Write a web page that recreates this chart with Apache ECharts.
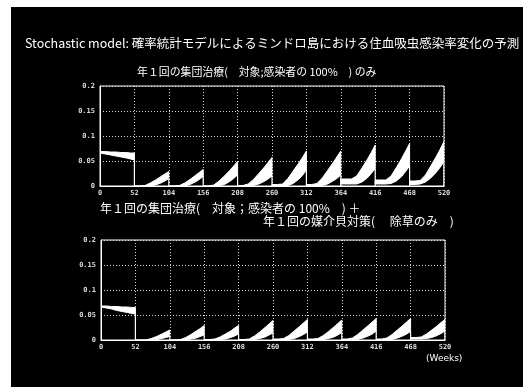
<!DOCTYPE html>
<html>
<head>
<meta charset="utf-8">
<script src="https://cdn.jsdelivr.net/npm/echarts@6/dist/echarts.min.js"></script>
<style>
  html, body { margin: 0; padding: 0; background: #fff; }
  #frame { position: absolute; left: 11px; top: 7px; width: 512px; height: 380px; background: #000; }
  #chart { position: absolute; left: 0; top: 0; width: 523px; height: 387px; }
</style>
</head>
<body>
<div id="frame"></div>
<div id="chart"></div>
<script>
// Time axis (weeks) and the yearly mass-treatment dates
const weekTicks = [0, 52, 104, 156, 208, 260, 312, 364, 416, 468, 520];
const yearStarts = [0, 52, 104, 156, 208, 260, 312, 364, 416, 468];
// Sample points inside each year (weeks after the treatment)
const yearOffsets = [0, 8, 16, 24, 32, 40, 46, 52];
const rateTicks = [0, 0.05, 0.1, 0.15, 0.2];

// Upper / lower envelopes of the simulated infection rate: treatment only
const treatUpper = [
  [0.069, 0.069, 0.068, 0.068, 0.067, 0.067, 0.066, 0.066],
  [0, 0, 0.001, 0.006, 0.012, 0.019, 0.024, 0.029],
  [0, 0, 0.001, 0.006, 0.013, 0.021, 0.027, 0.033],
  [0, 0, 0.002, 0.010, 0.020, 0.031, 0.040, 0.049],
  [0, 0.001, 0.004, 0.013, 0.025, 0.037, 0.047, 0.057],
  [0.003, 0.003, 0.004, 0.015, 0.030, 0.045, 0.057, 0.070],
  [0.003, 0.003, 0.005, 0.016, 0.031, 0.046, 0.058, 0.070],
  [0.014, 0.014, 0.014, 0.020, 0.036, 0.053, 0.067, 0.082],
  [0.012, 0.012, 0.012, 0.020, 0.037, 0.055, 0.070, 0.085],
  [0.010, 0.010, 0.011, 0.022, 0.040, 0.058, 0.073, 0.089]
];
const treatLower = [
  [0.066, 0.064, 0.062, 0.060, 0.058, 0.056, 0.054, 0.052],
  [0, 0, 0, 0, 0.002, 0.006, 0.010, 0.015],
  [0, 0, 0, 0, 0.003, 0.008, 0.013, 0.019],
  [0, 0, 0, 0, 0.003, 0.009, 0.015, 0.022],
  [0, 0, 0, 0.001, 0.004, 0.009, 0.014, 0.020],
  [0, 0, 0, 0.001, 0.005, 0.013, 0.021, 0.032],
  [0, 0, 0, 0.001, 0.004, 0.010, 0.015, 0.022],
  [0.004, 0.004, 0.004, 0.004, 0.008, 0.016, 0.025, 0.035],
  [0.004, 0.004, 0.004, 0.005, 0.010, 0.019, 0.029, 0.040],
  [0.003, 0.003, 0.004, 0.008, 0.016, 0.027, 0.037, 0.049]
];

// Treatment + snail control (weeding)
const comboUpper = [
  [0.068, 0.068, 0.067, 0.067, 0.066, 0.066, 0.065, 0.065],
  [0, 0, 0, 0.003, 0.007, 0.012, 0.016, 0.020],
  [0, 0, 0.001, 0.005, 0.011, 0.018, 0.023, 0.029],
  [0.001, 0.001, 0.002, 0.006, 0.012, 0.018, 0.024, 0.029],
  [0.001, 0.001, 0.002, 0.008, 0.016, 0.025, 0.032, 0.039],
  [0.002, 0.002, 0.003, 0.009, 0.018, 0.027, 0.034, 0.041],
  [0.002, 0.002, 0.003, 0.009, 0.017, 0.026, 0.033, 0.040],
  [0.002, 0.002, 0.004, 0.011, 0.020, 0.029, 0.036, 0.043],
  [0.002, 0.002, 0.004, 0.011, 0.020, 0.029, 0.036, 0.043],
  [0.005, 0.005, 0.006, 0.012, 0.020, 0.028, 0.035, 0.041]
];
const comboLower = [
  [0.066, 0.064, 0.062, 0.059, 0.057, 0.055, 0.053, 0.052],
  [0, 0, 0, 0, 0.001, 0.003, 0.005, 0.007],
  [0, 0, 0, 0, 0.002, 0.004, 0.007, 0.010],
  [0, 0, 0, 0.001, 0.002, 0.005, 0.008, 0.012],
  [0, 0, 0, 0.001, 0.003, 0.006, 0.010, 0.014],
  [0, 0, 0, 0.001, 0.003, 0.007, 0.011, 0.016],
  [0, 0, 0, 0.001, 0.003, 0.006, 0.010, 0.015],
  [0, 0, 0, 0.001, 0.004, 0.008, 0.012, 0.018],
  [0, 0, 0, 0.001, 0.004, 0.008, 0.012, 0.017],
  [0.002, 0.002, 0.002, 0.003, 0.005, 0.009, 0.013, 0.018]
];

const chart = echarts.init(document.getElementById('chart'), null, { renderer: 'canvas' });

const tickFont = { color: '#dcdcdc', fontFamily: 'DejaVu Sans Mono', fontSize: 7, fontWeight: 'bold' };
const dotted = { color: '#d8d8d8', width: 1, type: [1, 2] };

function xAxisFor(gridIndex) {
  return {
    type: 'value', gridIndex, min: 0, max: 520, interval: 52,
    axisLine: { show: true, lineStyle: { color: '#fff', width: 1 } },
    axisTick: { show: false },
    axisLabel: { ...tickFont, margin: 4, formatter: v => weekTicks.includes(v) ? String(v) : '' },
    splitLine: { show: true, lineStyle: dotted }
  };
}
function yAxisFor(gridIndex) {
  return {
    type: 'value', gridIndex, min: 0, max: 0.2, interval: 0.05,
    axisLine: { show: true, lineStyle: { color: '#fff', width: 1 } },
    axisTick: { show: false },
    axisLabel: { ...tickFont, margin: 5, formatter: v => rateTicks.includes(+v.toFixed(2)) ? String(+v.toFixed(2)) : '' },
    splitLine: { show: true, lineStyle: dotted }
  };
}

// Each data item is one year: a white band between the envelopes,
// followed by the drop to zero at the next treatment.
function bandRenderer(upper, lower) {
  return function (params, api) {
    const k = params.dataIndex;
    const start = yearStarts[k];
    const top = yearOffsets.map((o, i) => api.coord([start + o, upper[k][i]]));
    const bot = yearOffsets.map((o, i) => api.coord([start + o, lower[k][i]])).reverse();
    const endX = start + yearOffsets[yearOffsets.length - 1];
    const endLow = api.coord([endX, lower[k][lower[k].length - 1]]);
    const endZero = api.coord([endX, 0]);
    return {
      type: 'group',
      children: [
        {
          type: 'polygon',
          shape: { points: top.concat(bot) },
          style: { fill: '#fff', stroke: '#fff', lineWidth: 1 }
        },
        {
          type: 'line',
          shape: { x1: endLow[0], y1: endLow[1], x2: endZero[0], y2: endZero[1] },
          style: { stroke: '#fff', lineWidth: 1.2 }
        }
      ]
    };
  };
}

const option = {
  backgroundColor: 'transparent',
  animation: false,
  grid: [
    { left: 100, top: 86, width: 344, height: 100, show: true, borderColor: '#fff', borderWidth: 1, backgroundColor: 'transparent' },
    { left: 101, top: 240, width: 344, height: 100, show: true, borderColor: '#fff', borderWidth: 1, backgroundColor: 'transparent' }
  ],
  xAxis: [xAxisFor(0), xAxisFor(1)],
  yAxis: [yAxisFor(0), yAxisFor(1)],
  series: [
    {
      type: 'custom', name: 'treatment', xAxisIndex: 0, yAxisIndex: 0,
      data: yearStarts.map((s, i) => [s, i]),
      renderItem: bandRenderer(treatUpper, treatLower),
      clip: true
    },
    {
      type: 'custom', name: 'treatment+weeding', xAxisIndex: 1, yAxisIndex: 1,
      data: yearStarts.map((s, i) => [s, i]),
      renderItem: bandRenderer(comboUpper, comboLower),
      clip: true
    }
  ],
  graphic: [
    {
      type: 'text', left: 25, top: 37,
      style: {
        text: 'Stochastic model: 確率統計モデルによるミンドロ島における住血吸虫感染率変化の予測',
        fill: '#fff', font: '12.5px "Noto Sans CJK JP"'
      }
    },
    {
      type: 'text', left: 137, top: 66,
      style: {
        text: '年１回の集団治療(　対象;感染者の 100%　) のみ',
        fill: '#fff', font: '10.9px "Noto Sans CJK JP"'
      }
    },
    {
      type: 'text', left: 100, top: 202,
      style: {
        text: '年１回の集団治療(　対象；感染者の 100%　) ＋',
        fill: '#fff', font: '12px "Noto Sans CJK JP"'
      }
    },
    {
      type: 'text', left: 263, top: 215,
      style: {
        text: '年１回の媒介貝対策(　 除草のみ　)',
        fill: '#fff', font: '12px "Noto Sans CJK JP"'
      }
    },
    {
      type: 'text', left: 426, top: 354,
      style: {
        text: '(Weeks)',
        fill: '#fff', font: '9px "DejaVu Sans"'
      }
    }
  ]
};

chart.setOption(option);
</script>
</body>
</html>
